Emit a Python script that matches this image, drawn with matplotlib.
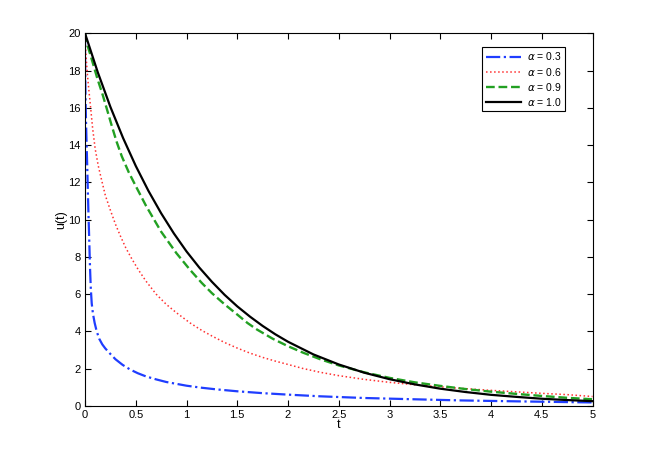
import matplotlib.pyplot as plt

plt.rcParams['font.family'] = ['Liberation Sans', 'DejaVu Sans']

# alpha = 0.3
t_03 = [0, 0.001, 0.003, 0.006, 0.01, 0.016, 0.022, 0.028, 0.034, 0.04, 0.045, 0.05,
        0.057, 0.066, 0.078, 0.095, 0.115, 0.14, 0.17, 0.2, 0.247, 0.3, 0.37, 0.444,
        0.52, 0.6, 0.7, 0.8, 0.9, 1.0, 1.15, 1.3, 1.5, 1.75, 2.0, 2.318, 2.75, 3.25,
        3.7, 4.25, 5.0]
u_03 = [20, 18.6, 17.3, 16.2, 15.2, 14.0, 12.8, 11.5, 10.3, 9.2, 8.2, 7.3,
        6.3, 5.5, 4.95, 4.45, 4.0, 3.6, 3.3, 3.08, 2.8, 2.5, 2.2, 1.95,
        1.75, 1.58, 1.42, 1.28, 1.18, 1.08, 0.97, 0.88, 0.78, 0.68, 0.6, 0.51, 0.42, 0.35,
        0.29, 0.24, 0.18]

# alpha = 0.6
t_06 = [0, 0.003, 0.008, 0.015, 0.025, 0.037, 0.05, 0.075, 0.1, 0.13, 0.16, 0.2,
        0.25, 0.3, 0.35, 0.4, 0.46, 0.526, 0.6, 0.7, 0.8, 0.9, 1.035, 1.15, 1.25,
        1.375, 1.5, 1.625, 1.75, 1.875, 2.0, 2.15, 2.318, 2.5, 2.75, 3.0, 3.25, 3.5,
        3.75, 4.0, 4.25, 4.5, 4.75, 5.0]
u_06 = [20, 19.5, 19.0, 18.4, 17.7, 17.0, 16.3, 14.9, 13.8, 12.9, 12.2, 11.3,
        10.5, 9.75, 9.1, 8.5, 7.9, 7.3, 6.7, 6.0, 5.45, 5.0, 4.45, 4.05, 3.75,
        3.4, 3.1, 2.83, 2.6, 2.4, 2.22, 2.0, 1.8, 1.62, 1.42, 1.26, 1.13, 1.02,
        0.92, 0.83, 0.75, 0.67, 0.6, 0.5]

# alpha = 0.9
t_09 = [0, 0.005, 0.015, 0.03, 0.05, 0.08, 0.12, 0.174, 0.22, 0.26, 0.31, 0.362,
        0.43, 0.5, 0.6, 0.75, 0.9, 1.035, 1.15, 1.25, 1.375, 1.5, 1.6, 1.693, 1.85,
        2.0, 2.15, 2.318, 2.5, 2.75, 3.0, 3.25, 3.5, 3.75, 4.0, 4.25, 4.5, 4.75, 5.0]
u_09 = [20, 19.8, 19.55, 19.25, 18.9, 18.35, 17.6, 16.7, 15.85, 15.1, 14.2, 13.4,
        12.55, 11.8, 10.75, 9.35, 8.2, 7.3, 6.6, 6.05, 5.45, 4.9, 4.45, 4.1, 3.6,
        3.2, 2.85, 2.5, 2.17, 1.8, 1.5, 1.26, 1.07, 0.9, 0.76, 0.64, 0.53, 0.43, 0.35]

# alpha = 1.0
t_10 = [0, 0.125, 0.25, 0.375, 0.5, 0.625, 0.75, 0.875, 1.0, 1.125, 1.25, 1.375,
        1.5, 1.625, 1.75, 1.875, 2.0, 2.25, 2.5, 2.75, 3.0, 3.25, 3.5, 3.75, 4.0,
        4.25, 4.5, 4.75, 5.0]
u_10 = [20, 17.92, 16.05, 14.38, 12.88, 11.54, 10.34, 9.26, 8.29, 7.43, 6.66, 5.96,
        5.34, 4.79, 4.29, 3.84, 3.44, 2.76, 2.22, 1.78, 1.43, 1.15, 0.92, 0.74, 0.59,
        0.48, 0.38, 0.31, 0.25]

fig = plt.figure(figsize=(6.54, 4.57), dpi=100)
ax = fig.add_axes([0.130, 0.112, 0.776, 0.815])

ax.plot(t_03, u_03, '-.', color='#1f3dff', linewidth=1.6, label=r'$\alpha$ = 0.3')
ax.plot(t_06, u_06, ':', color='#ff3030', linewidth=1.1, label=r'$\alpha$ = 0.6')
ax.plot(t_09, u_09, '--', color='#22a022', linewidth=1.7, label=r'$\alpha$ = 0.9')
ax.plot(t_10, u_10, '-', color='black', linewidth=1.6, label=r'$\alpha$ = 1.0')

ax.set_xlim(0, 5)
ax.set_ylim(0, 20)
ax.set_xticks([0, 0.5, 1, 1.5, 2, 2.5, 3, 3.5, 4, 4.5, 5])
ax.set_xticklabels(['0', '0.5', '1', '1.5', '2', '2.5', '3', '3.5', '4', '4.5', '5'])
ax.set_yticks(range(0, 21, 2))
ax.tick_params(direction='in', top=True, right=True, labelsize=8, length=4, pad=3)
for s in ax.spines.values():
    s.set_linewidth(0.8)
ax.set_xlabel('t', fontsize=9, labelpad=-1)
ax.set_ylabel('u(t)', fontsize=9, labelpad=1)

leg = ax.legend(loc='upper right', bbox_to_anchor=(0.956, 0.978), fontsize=7.5,
                fancybox=False, edgecolor='black', framealpha=1,
                handlelength=3.4, borderpad=0.35, labelspacing=0.3, handletextpad=0.5)
leg.get_frame().set_linewidth(0.8)

fig.savefig('out.png', dpi=100)
